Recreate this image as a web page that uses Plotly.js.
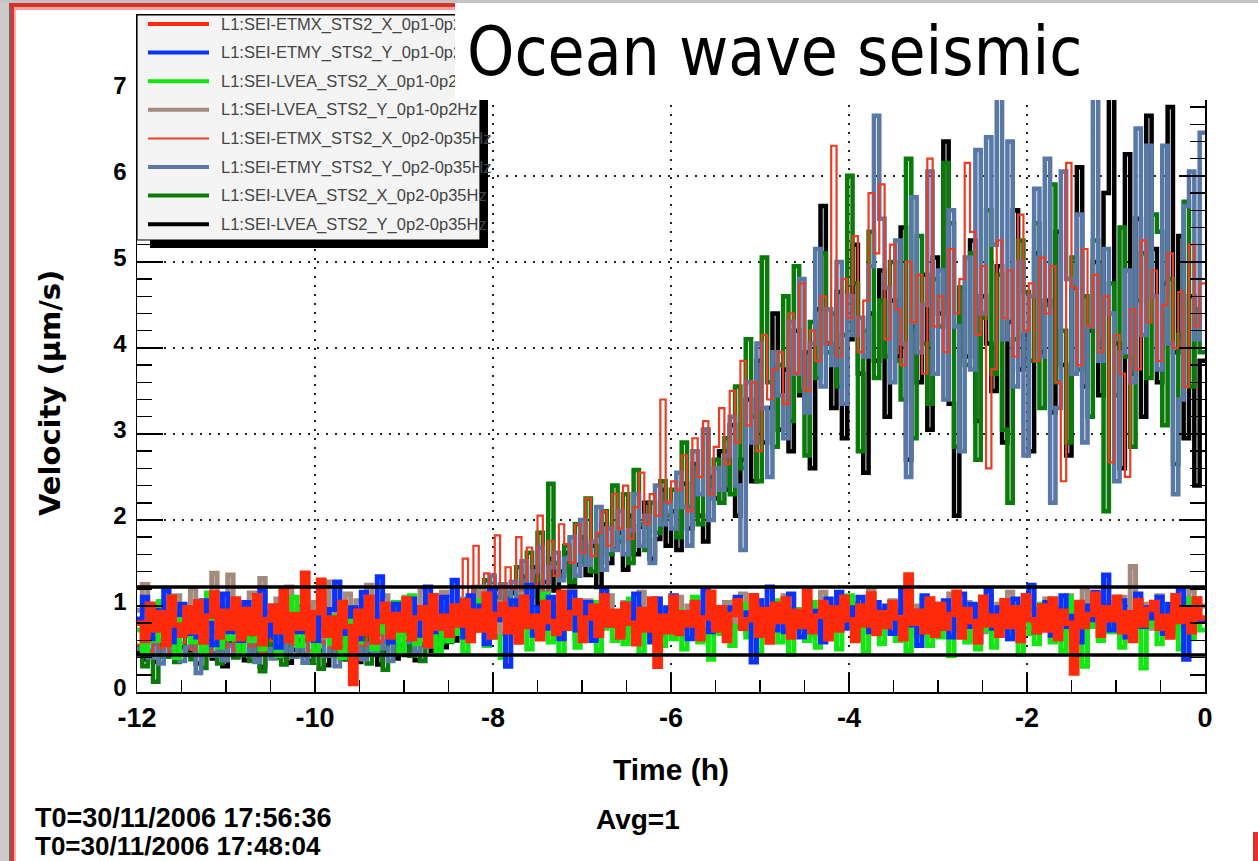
<!DOCTYPE html>
<html>
<head>
<meta charset="utf-8">
<script src="https://cdn.plot.ly/plotly-3.0.1.min.js"></script>
<style>
html,body{margin:0;padding:0;background:#fff;overflow:hidden}
#chart{width:1258px;height:861px}
</style>
</head>
<body>
<div id="chart"></div>
<script>
// ---------------- DATA ----------------
const seriesNames = [
  'L1:SEI-ETMX_STS2_X_0p1-0p2Hz',
  'L1:SEI-ETMY_STS2_Y_0p1-0p2Hz',
  'L1:SEI-LVEA_STS2_X_0p1-0p2Hz',
  'L1:SEI-LVEA_STS2_Y_0p1-0p2Hz',
  'L1:SEI-ETMX_STS2_X_0p2-0p35Hz',
  'L1:SEI-ETMY_STS2_Y_0p2-0p35Hz',
  'L1:SEI-LVEA_STS2_X_0p2-0p35Hz',
  'L1:SEI-LVEA_STS2_Y_0p2-0p35Hz'
];
const binStartHours = -12;
const binWidthHours = 0.06;

// 0.1-0.2 Hz band (um/s)
const etmxX_lo = [
0.80,0.60,1.02,0.72,0.92,0.55,1.10,0.78,0.66,0.98,
0.70,1.05,0.58,0.88,1.15,0.64,0.94,0.74,1.08,0.62,
0.96,0.68,1.12,0.56,0.84,1.00,0.70,1.18,0.60,0.90,
0.74,1.38,0.62,0.92,1.30,0.66,0.86,0.52,1.04,0.76,
0.10,0.94,0.68,1.10,0.58,0.82,1.02,0.64,0.90,0.72,
1.08,0.62,0.86,0.98,0.54,1.12,0.74,0.88,0.66,1.00,
0.78,1.06,0.60,0.94,0.72,1.14,0.64,0.90,1.02,0.70,
0.96,0.58,1.10,0.76,0.88,0.62,1.04,0.82,0.68,1.16,
0.74,0.92,1.06,0.60,0.86,1.00,0.66,1.12,0.78,0.94,
0.64,1.02,0.80,0.56,0.96,0.72,1.08,0.30,0.88,0.70,
1.10,0.68,0.92,0.78,1.04,0.62,0.86,1.16,0.72,0.98,
0.60,0.90,1.06,0.74,0.84,1.12,0.66,0.96,0.58,1.02,
0.82,1.08,0.64,0.94,0.76,1.18,0.70,0.88,1.04,0.62,
0.98,0.72,1.10,0.84,0.60,1.00,0.78,1.14,0.68,0.92,
0.76,1.04,0.86,0.62,1.36,0.80,0.94,0.70,1.08,0.66,
1.02,0.74,0.90,1.16,0.64,0.96,0.82,0.58,1.10,0.78,
0.88,0.66,1.06,0.76,0.98,0.60,1.12,0.84,0.70,1.00,
0.72,1.08,0.62,0.94,0.80,0.22,1.04,0.76,0.90,1.14,
0.66,0.98,0.84,1.10,0.70,0.92,0.60,1.06,0.78,0.96,
1.04,0.74,0.88,0.64,1.12,0.82,0.96,0.70,1.08,0.86,
0.86];
const etmyY_lo = [
0.85,1.10,0.62,0.95,0.74,1.18,0.58,0.90,1.02,0.68,
0.92,0.64,1.06,0.80,0.55,0.98,1.14,0.70,0.88,0.60,
1.04,0.72,0.86,1.20,0.66,0.94,0.52,1.08,0.78,0.90,
0.70,1.00,0.84,0.60,1.12,0.76,0.96,1.28,0.68,0.88,
0.98,0.62,1.16,0.82,0.72,1.34,0.86,0.58,1.02,0.74,
0.80,1.08,0.66,0.94,1.22,0.70,0.88,1.10,0.76,1.30,
0.90,0.64,1.12,0.78,1.00,0.56,1.18,0.84,0.96,0.30,
1.06,0.80,0.92,1.24,0.66,0.98,0.74,1.10,0.86,0.62,
0.94,1.16,0.72,0.88,1.04,0.60,0.96,1.20,0.78,0.90,
0.68,1.02,0.84,1.14,0.74,0.92,0.58,1.08,0.82,0.98,
1.12,0.76,0.90,0.62,1.04,0.86,1.18,0.70,0.94,0.80,
0.66,0.98,1.10,0.78,0.92,0.35,1.06,0.84,1.22,0.72,
0.96,0.70,1.14,0.88,0.64,1.02,0.80,0.94,0.58,1.08,
0.82,1.16,0.74,0.98,0.62,1.10,0.86,0.70,1.04,0.90,
1.00,0.68,0.92,1.20,0.78,0.94,0.54,1.12,0.84,0.72,
0.88,1.06,0.64,0.96,1.14,0.76,1.02,0.60,0.90,1.18,
0.74,0.98,0.86,0.62,1.08,0.80,0.96,1.24,0.70,0.92,
1.04,0.66,0.94,1.12,0.76,0.88,0.58,1.00,0.84,1.16,
0.80,1.36,0.72,0.96,1.06,0.64,0.90,1.14,0.76,0.98,
0.86,1.10,0.68,1.02,0.92,1.20,0.38,0.96,1.08,0.82,
0.82];
const lveaX_lo = [
0.72,0.48,0.90,0.60,1.05,0.55,0.82,0.40,0.95,0.66,
0.58,0.88,0.45,1.15,0.70,0.52,0.98,0.62,0.80,0.44,
0.86,0.60,1.02,0.50,0.76,0.94,0.42,0.84,0.64,1.10,
0.54,0.92,0.68,0.46,1.00,0.74,0.56,0.88,0.40,0.78,
0.96,0.58,0.82,1.08,0.50,0.70,0.90,0.62,1.04,0.48,
0.74,1.12,0.56,0.86,0.66,0.98,0.44,0.80,0.60,0.92,
0.68,0.46,0.94,0.72,1.06,0.54,0.84,0.64,0.40,0.88,
1.00,0.62,0.78,0.50,0.96,0.70,1.14,0.58,0.82,0.44,
0.76,0.98,0.52,0.86,0.66,1.04,0.48,0.74,0.92,0.60,
0.84,0.56,1.08,0.70,0.46,0.90,0.64,1.00,0.54,0.78,
0.62,0.94,0.50,0.80,1.10,0.58,0.72,0.38,0.88,0.68,
0.96,0.54,0.76,1.02,0.64,0.86,0.48,0.92,0.70,1.06,
0.58,0.82,0.44,0.96,0.74,0.60,1.04,0.52,0.80,0.66,
0.90,0.50,0.78,1.12,0.62,0.84,0.46,0.98,0.70,0.56,
0.80,1.02,0.60,0.74,0.48,0.92,0.66,1.08,0.54,0.86,
0.64,0.88,0.42,0.76,1.00,0.58,0.82,0.50,0.96,0.72,
0.52,0.86,1.06,0.62,0.78,0.44,0.94,0.68,0.56,1.02,
0.74,0.58,0.90,0.48,1.10,0.66,0.84,0.30,0.76,0.96,
0.60,0.92,0.70,1.04,0.52,0.82,0.64,0.98,0.28,0.88,
0.78,0.56,1.00,0.68,0.90,0.50,1.08,0.62,0.84,0.72,
0.72];
const lveaY_lo = [
0.95,1.25,0.70,0.88,1.05,0.62,0.92,1.12,0.75,0.98,
1.20,0.80,1.02,0.66,1.38,0.90,0.72,1.36,0.85,1.00,
0.78,1.15,0.68,1.32,0.92,0.74,1.08,0.82,1.22,0.70,
0.96,1.18,0.76,1.04,0.64,1.28,0.88,1.00,0.72,1.14,
0.84,1.06,0.68,1.24,0.90,0.78,1.12,0.70,1.02,0.86,
1.10,0.74,0.96,1.20,0.66,1.04,0.82,1.16,0.72,0.94,
0.80,1.08,0.70,0.98,1.22,0.76,0.92,1.04,0.68,0.88,
1.02,0.74,1.14,0.86,0.96,0.70,1.10,0.82,1.00,0.78,
0.92,1.18,0.72,0.88,1.06,0.64,0.98,0.84,1.12,0.76,
0.86,1.04,0.70,0.94,1.16,0.78,0.90,1.08,0.66,0.96,
0.82,1.10,0.74,1.00,0.68,0.92,1.20,0.80,0.96,0.72,
1.04,0.78,0.94,1.14,0.70,0.88,1.06,0.76,0.98,0.84,
0.90,1.12,0.72,0.96,0.80,1.08,0.66,0.94,1.16,0.78,
0.98,0.74,1.10,0.86,1.02,0.70,0.92,1.18,0.80,0.96,
0.84,1.06,0.76,0.94,1.12,0.68,1.00,0.82,1.08,0.74,
0.96,0.80,1.14,0.72,0.90,1.04,0.78,0.98,0.70,1.10,
0.86,1.02,0.74,1.16,0.88,0.68,1.06,0.82,0.96,0.76,
1.08,0.84,0.98,0.72,1.12,0.80,0.94,1.20,0.76,1.00,
0.88,1.04,0.70,0.92,1.10,0.78,1.46,0.86,1.02,0.74,
0.94,1.12,0.80,0.98,0.72,1.06,0.84,1.18,0.90,1.00,
1.00];

// 0.2-0.35 Hz band (um/s)
const etmxX_hi = [
0.55,0.68,0.47,0.62,0.51,0.74,0.44,0.60,0.57,0.66,
0.49,0.63,0.71,0.45,0.58,0.67,0.52,0.76,0.48,0.61,
0.70,0.53,0.64,0.46,0.75,0.59,0.50,0.68,0.62,0.55,
0.63,0.72,0.48,0.66,0.57,0.78,0.52,0.61,0.69,0.56,
0.60,0.73,0.54,0.67,0.81,0.58,0.70,0.62,0.77,0.65,
0.74,0.86,0.68,0.92,0.79,1.05,0.83,0.97,1.12,0.90,
1.02,1.55,0.80,1.70,1.10,1.38,0.85,1.82,1.05,1.45,
1.20,1.80,1.05,1.68,1.25,2.05,1.10,1.75,1.35,1.95,
1.72,1.50,1.95,1.62,2.25,1.58,1.85,2.10,1.70,2.30,
1.90,2.40,1.78,2.15,2.55,1.95,2.30,2.05,3.40,2.20,
2.45,2.35,2.75,2.10,2.95,2.50,3.15,2.30,2.85,3.30,
2.65,3.50,2.90,3.85,3.10,3.60,2.80,4.15,3.40,3.75,
3.95,3.35,4.40,3.70,4.75,3.50,4.20,3.85,4.60,4.05,
6.35,3.90,4.80,4.35,5.30,3.95,4.55,5.80,5.10,5.90,
4.10,5.20,4.45,3.80,5.00,4.30,4.85,3.70,6.20,4.25,
4.60,3.95,5.15,4.40,4.80,6.15,5.35,4.15,4.95,2.60,
3.75,5.25,4.35,4.90,3.90,5.55,4.20,4.75,3.85,5.05,
4.40,4.95,3.60,2.45,6.15,4.70,3.80,5.15,4.25,4.85,
3.95,4.60,2.67,4.15,3.70,2.50,4.45,3.75,5.25,4.30,
4.90,3.85,4.50,5.10,4.00,4.65,3.55,5.20,4.25,4.75,
4.75];
const etmyY_hi = [
0.50,0.62,0.40,0.55,0.33,0.68,0.47,0.58,0.36,0.52,
0.64,0.22,0.49,0.57,0.42,0.70,0.37,0.54,0.45,0.61,
0.43,0.56,0.35,0.66,0.50,0.39,0.60,0.46,0.72,0.41,
0.55,0.34,0.63,0.48,0.59,0.42,0.69,0.30,0.53,0.64,
0.47,0.61,0.38,0.56,0.44,0.67,0.51,0.36,0.62,0.49,
0.58,0.71,0.46,0.65,0.53,0.84,0.60,0.78,0.92,0.70,
0.88,1.08,0.82,1.22,0.95,1.15,1.35,0.90,1.25,1.05,
1.28,1.10,1.52,1.20,1.40,1.68,1.12,1.45,1.62,1.30,
1.55,1.80,1.35,2.00,1.48,1.75,2.15,1.42,1.90,1.65,
2.10,1.60,1.88,2.30,1.70,2.05,1.50,2.40,1.95,2.20,
1.90,2.55,2.15,1.70,2.80,2.30,3.05,2.00,2.60,2.35,
2.75,3.20,2.40,1.65,3.60,2.90,4.05,3.30,2.50,3.95,
3.45,2.95,4.30,3.70,4.80,3.25,4.05,5.15,3.55,4.45,
3.80,5.00,3.35,4.60,4.15,4.35,3.90,4.95,6.70,5.50,
4.70,3.60,5.25,4.05,2.50,5.75,3.95,4.50,6.05,3.70,
4.90,3.40,5.60,4.25,2.80,5.05,3.75,6.30,4.40,6.45,
5.20,7.10,4.10,6.40,3.55,5.00,2.75,4.60,5.85,3.90,
6.20,2.20,3.30,6.05,4.80,3.70,5.55,2.90,4.25,7.40,
3.85,5.15,4.40,2.45,3.95,4.90,3.60,6.55,4.15,6.35,
4.60,3.75,6.35,4.05,2.30,3.40,5.65,6.05,4.10,6.50,
6.50];
const lveaX_hi = [
0.52,0.30,0.48,0.12,0.60,0.41,0.55,0.35,0.66,0.44,
0.38,0.57,0.28,0.62,0.45,0.33,0.53,0.70,0.40,0.49,
0.63,0.36,0.51,0.24,0.58,0.46,0.69,0.32,0.54,0.41,
0.47,0.60,0.34,0.55,0.27,0.65,0.43,0.52,0.38,0.71,
0.56,0.40,0.62,0.33,0.49,0.58,0.26,0.64,0.45,0.53,
0.68,0.42,0.57,0.36,0.63,0.79,0.50,0.72,0.58,0.88,
0.80,1.02,0.74,1.18,0.90,1.30,0.85,1.10,1.25,0.98,
1.20,1.45,1.05,1.62,1.30,1.85,1.15,2.42,1.50,1.35,
1.70,1.28,1.95,1.52,2.25,1.40,1.82,2.10,1.60,2.40,
1.75,2.30,1.50,2.58,1.95,1.65,2.20,1.85,2.45,2.05,
2.35,1.80,2.90,2.15,2.60,1.95,3.05,2.40,2.70,2.20,
2.95,2.30,3.55,2.60,4.10,3.20,2.45,5.05,3.60,2.85,
3.80,4.60,3.15,4.95,3.50,2.75,4.30,3.65,5.10,3.95,
4.40,3.55,4.15,6.00,4.75,2.80,4.20,5.35,3.65,4.55,
3.90,5.00,3.85,3.40,6.20,2.95,5.30,4.05,3.35,4.80,
4.25,6.15,5.45,2.85,4.70,3.80,5.10,2.70,4.35,5.60,
3.70,4.85,3.05,2.20,4.10,5.25,4.65,3.85,5.45,3.30,
4.50,5.90,3.60,4.20,2.90,5.05,3.75,4.60,3.20,5.25,
4.05,2.10,4.75,3.45,5.40,3.90,2.85,4.55,5.10,3.65,
5.55,5.35,3.10,4.80,2.65,4.15,5.70,3.55,4.45,3.95,
3.95];
const lveaY_hi = [
0.45,0.38,0.62,0.35,0.55,0.41,0.70,0.36,0.52,0.44,
0.58,0.33,0.47,0.66,0.39,0.51,0.30,0.60,0.42,0.55,
0.37,0.64,0.45,0.29,0.53,0.68,0.40,0.57,0.34,0.49,
0.61,0.43,0.36,0.72,0.48,0.31,0.56,0.45,0.63,0.38,
0.50,0.35,0.67,0.44,0.58,0.32,0.46,0.71,0.39,0.54,
0.43,0.62,0.37,0.55,0.74,0.48,0.66,0.52,0.81,0.60,
0.72,0.95,0.68,1.05,0.84,1.12,0.78,1.20,0.96,1.08,
1.15,0.92,1.34,1.10,1.45,1.02,1.28,1.55,1.18,1.40,
1.62,1.25,1.48,1.80,1.36,1.70,1.22,1.95,1.50,1.66,
1.85,1.42,2.05,1.60,1.92,2.20,1.55,1.78,2.35,1.70,
2.10,1.65,2.42,1.90,2.65,2.05,1.75,2.50,2.25,2.80,
2.35,3.10,2.05,2.70,3.40,2.45,3.85,2.90,3.30,4.40,
3.05,3.75,2.80,4.20,3.45,3.95,2.60,4.45,5.65,4.05,
3.30,4.65,2.95,4.10,5.20,3.70,2.55,4.40,3.85,4.90,
3.20,4.55,3.90,5.40,2.70,4.25,3.60,4.85,3.05,5.05,
4.40,6.40,3.35,2.05,4.70,3.90,5.25,3.15,4.60,4.05,
3.50,4.95,2.90,4.30,5.60,3.75,4.15,2.80,5.10,3.95,
4.55,3.25,5.35,3.80,2.75,4.70,6.10,3.55,4.20,5.00,
3.45,5.80,7.70,4.05,2.60,6.25,3.70,5.50,3.20,6.70,
5.15,3.60,4.75,6.80,3.95,5.30,2.95,4.60,2.40,3.85,
3.85];

const seriesValues = [etmxX_lo, etmyY_lo, lveaX_lo, lveaY_lo, etmxX_hi, etmyY_hi, lveaX_hi, lveaY_hi];
const bandLimits = [0.43, 1.22];
const xTickValues = [-12, -10, -8, -6, -4, -2, 0];
const xTickLabels = ['-12', '-10', '-8', '-6', '-4', '-2', '0'];
const yTickValues = [0, 1, 2, 3, 4, 5, 6, 7];
const yTickLabels = ['0', '1', '2', '3', '4', '5', '6', '7'];
const chartTitle = 'Ocean wave seismic';
const xTitle = 'Time (h)';
const yTitle = 'Velocity (\u00b5m/s)';
const footerLeft = ['T0=30/11/2006 17:56:36', 'T0=30/11/2006 17:48:04'];
const footerAvg = 'Avg=1';

// ---------------- STYLE ----------------
const colors = ['#ff2a0a', '#0a32ff', '#14e614', '#a38a7c', '#ec3c24', '#5878a8', '#0a7a0a', '#000000'];
const widths = [5.5, 5, 5, 5, 2.2, 4.5, 4.5, 4.5];
const legendWidths = [4, 4, 4, 4, 2, 4, 4, 4];
const drawOrder = [7, 6, 5, 4, 3, 2, 1, 0];

const timeHours = etmxX_lo.map((_, i) => +(binStartHours + i * binWidthHours).toFixed(2));

const traces = drawOrder.map(k => ({
  type: 'scatter', mode: 'lines', name: seriesNames[k],
  x: timeHours, y: seriesValues[k],
  line: {color: colors[k], width: widths[k], shape: 'hv'},
  hoverinfo: 'skip', showlegend: false
}));

// pixel -> paper helpers (plot frame 137..1205 x, 15..692 y)
const L = 137, R = 1205, T = 15, B = 692;
const pxX = x => (x - L) / (R - L);
const pxY = y => (B - y) / (B - T);

const rootFont = 'Liberation Sans, Arial, sans-serif';
const shapes = [];
const annotations = [];

function rect(x0, y0, x1, y1, color) {
  shapes.push({type: 'rect', xref: 'paper', yref: 'paper', layer: 'above',
    x0: pxX(x0), x1: pxX(x1), y0: pxY(y0), y1: pxY(y1),
    fillcolor: color, line: {width: 0}});
}

// band limit lines
bandLimits.forEach(v => shapes.push({type: 'line', xref: 'x', yref: 'y', layer: 'above',
  x0: -12, x1: 0, y0: v, y1: v, line: {color: '#000', width: 3.5}}));

// legend box + shadow
rect(150, 240, 488, 248, '#000');
rect(480, 24, 488, 248, '#000');
shapes.push({type: 'rect', xref: 'paper', yref: 'paper', layer: 'above',
  x0: pxX(137), x1: pxX(480), y0: pxY(15), y1: pxY(240),
  fillcolor: '#f4f4f4', line: {color: '#000', width: 1.2}});
seriesNames.forEach((name, k) => {
  const ry = 24 + k * 28.6;
  shapes.push({type: 'line', xref: 'paper', yref: 'paper', layer: 'above',
    x0: pxX(148), x1: pxX(209), y0: pxY(ry), y1: pxY(ry),
    line: {color: colors[k], width: legendWidths[k]}});
  annotations.push({xref: 'paper', yref: 'paper', x: pxX(219), y: pxY(ry),
    xanchor: 'left', yanchor: 'middle', showarrow: false, text: name,
    font: {family: rootFont, size: 16.5, color: '#444'}});
});

// window border decoration
rect(0, 0, 9, 861, '#cbcbcb');
rect(9, 0, 11, 861, '#6a6a6a');
rect(11, 0, 14, 861, '#e8302a');
rect(14, 0, 16, 861, '#ffb2ad');
rect(0, 0, 1258, 3, '#c4c4c4');
rect(9, 3, 1258, 7, '#d8322c');
rect(14, 7, 1258, 10, '#ff9f9a');
rect(1253, 832, 1258, 861, '#e8302a');

// title box covering top of plot
annotations.push({xref: 'paper', yref: 'paper', x: pxX(455), y: pxY(3),
  xanchor: 'left', yanchor: 'top', showarrow: false, text: ' ',
  width: 803, height: 97, bgcolor: '#ffffff', borderpad: 0, borderwidth: 0});
annotations.push({xref: 'paper', yref: 'paper', x: pxX(465), y: pxY(52),
  xanchor: 'left', yanchor: 'middle', showarrow: false, text: chartTitle,
  font: {family: 'DejaVu Sans Condensed, DejaVu Sans, sans-serif', size: 67, color: '#000'}});

// y axis title
annotations.push({xref: 'paper', yref: 'paper', x: pxX(50), y: pxY(393),
  xanchor: 'center', yanchor: 'middle', showarrow: false, text: yTitle, textangle: -90,
  font: {family: 'DejaVu Sans, sans-serif', size: 29, color: '#000', weight: 'bold'}});

// footer texts
annotations.push({xref: 'paper', yref: 'paper', x: pxX(34), y: pxY(818),
  xanchor: 'left', yanchor: 'middle', showarrow: false, text: footerLeft[0], borderpad: 0,
  font: {family: rootFont, size: 27, color: '#000', weight: 'bold'}});
annotations.push({xref: 'paper', yref: 'paper', x: pxX(34), y: pxY(846),
  xanchor: 'left', yanchor: 'middle', showarrow: false, text: footerLeft[1], borderpad: 0,
  font: {family: rootFont, size: 26, color: '#000', weight: 'bold'}});
annotations.push({xref: 'paper', yref: 'paper', x: pxX(594), y: pxY(820),
  xanchor: 'left', yanchor: 'middle', showarrow: false, text: footerAvg,
  font: {family: rootFont, size: 28, color: '#000', weight: 'bold'}});

const axisCommon = {
  showline: true, linecolor: '#000', linewidth: 1.5, mirror: 'ticks',
  ticks: 'inside', tickcolor: '#000', tickwidth: 1.5,
  showgrid: true, gridcolor: '#222', gridwidth: 1.6, griddash: '2px,7px',
  zeroline: false, tickmode: 'array', fixedrange: true
};

const layout = {
  width: 1258, height: 861,
  margin: {l: L, r: 1258 - R, t: T, b: 861 - B, pad: 0},
  paper_bgcolor: '#fff', plot_bgcolor: '#fff',
  showlegend: false,
  xaxis: Object.assign({}, axisCommon, {
    range: [-12, 0], tickvals: xTickValues, ticktext: xTickLabels, ticklen: 19,
    minor: {tickmode: 'linear', tick0: -12, dtick: 0.5, ticks: 'inside', ticklen: 12, tickwidth: 1.5, tickcolor: '#000', showgrid: false},
    tickfont: {family: rootFont, size: 27, color: '#000', weight: 'bold'},
    ticklabelstandoff: 1,
    title: {text: xTitle, standoff: 27, font: {family: rootFont, size: 30, color: '#000', weight: 'bold'}}
  }),
  yaxis: Object.assign({}, axisCommon, {
    range: [0, 7.87], tickvals: yTickValues, ticktext: yTickLabels, ticklen: 26,
    minor: {tickmode: 'linear', tick0: 0, dtick: 0.2, ticks: 'inside', ticklen: 15, tickwidth: 1.5, tickcolor: '#000', showgrid: false},
    tickfont: {family: rootFont, size: 24, color: '#000', weight: 'bold'},
    ticklabelstandoff: 4, ticklabelshift: -4
  }),
  shapes: shapes,
  annotations: annotations
};

Plotly.newPlot('chart', traces, layout, {displayModeBar: false, staticPlot: true});
</script>
</body>
</html>
